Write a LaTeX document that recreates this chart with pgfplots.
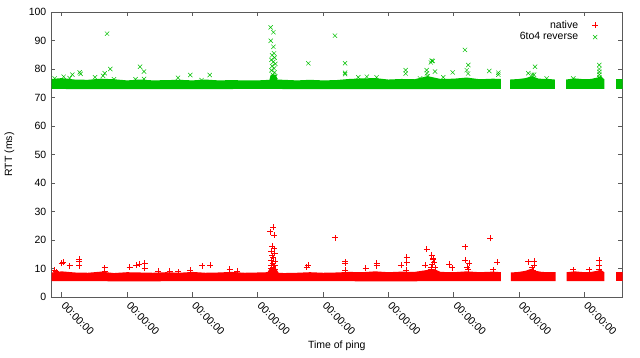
\documentclass[border=0pt]{standalone}
\usepackage{pgfplots}
\pgfplotsset{compat=1.18}
\usepackage{fontspec}
\setmainfont{Liberation Sans}
\definecolor{gpgreen}{RGB}{0,192,0}
\definecolor{gpred}{RGB}{255,0,0}
\definecolor{gpborder}{RGB}{90,90,90}
\begin{document}
\fontsize{10.5}{12}\selectfont
\begin{tikzpicture}[x=1pt,y=1pt]
\path[use as bounding box] (-51,-61) rectangle (589,297);
\begin{axis}[
  at={(0,0)}, anchor=south west,
  scale only axis, width=571.5pt, height=285pt,
  xmin=0.836, xmax=9.584, ymin=0, ymax=100,
  xtick={1,2,3,4,5,6,7,8,9}, xticklabel={00:00:00},
  ytick={0,10,...,100},
  /pgf/number format/assume math mode=true,
  tick align=inside, major tick length=4.5pt,
  axis line style={gpborder, line width=0.6pt},
  every tick/.style={gpborder, line width=0.6pt},
  xticklabel style={rotate=-45, anchor=north west, xshift=5pt, yshift=1pt, inner sep=1pt},
  yticklabel style={xshift=-1pt},
  xlabel={Time of ping}, ylabel={RTT (ms)},
  every axis x label/.style={at={(axis description cs:0.5,-0.172)}, anchor=center},
  every axis y label/.style={at={(axis description cs:-0.0726,0.5)}, rotate=90, anchor=center},
  legend style={at={(axis description cs:0.963,0.985)}, anchor=north east, draw=none, fill=none,
    legend plot pos=right, legend cell align=right, row sep=-1pt, column sep=12pt},
]
% dense bands (overlapping marks) as filled areas
\addplot[fill=gpred, draw=none, forget plot] coordinates {
(0.845,8.6) (1.0,9.0) (1.2,8.6) (1.4,8.5) (1.6,8.9) (1.8,8.4) (2.0,8.7) (2.2,8.6) (2.4,8.5) (2.6,8.7)
(2.8,8.5) (3.0,8.8) (3.2,8.5) (3.4,8.6) (3.6,8.8) (3.8,8.5) (4.0,8.6) (4.15,8.7) (4.2,10.5) (4.28,10.0)
(4.32,8.5) (4.4,8.4) (4.6,8.5) (4.8,8.7) (5.0,8.5) (5.2,8.6) (5.4,8.8) (5.6,8.7) (5.8,9.0) (6.0,8.7)
(6.2,8.9) (6.4,8.8) (6.6,9.5) (6.7,9.8) (6.8,8.8) (7.0,8.7) (7.2,9.0) (7.4,8.7) (7.6,8.9) (7.724,8.7)
(7.724,5.6) (6.0,5.5) (4.0,5.6) (2.0,5.5) (0.845,5.6)};
\addplot[fill=gpred, draw=none, forget plot] coordinates {
(7.877,8.6) (8.0,8.8) (8.1,9.2) (8.2,10.0) (8.25,9.2) (8.35,8.8) (8.45,8.7) (8.562,8.7) (8.562,5.6) (7.877,5.6)};
\addplot[fill=gpred, draw=none, forget plot] coordinates {
(8.730,8.7) (8.85,9.0) (9.0,8.7) (9.1,8.8) (9.2,9.2) (9.25,9.6) (9.305,8.7) (9.305,5.6) (8.730,5.6)};
\addplot[fill=gpred, draw=none, forget plot] coordinates {
(9.480,8.7) (9.6,8.7) (9.6,5.6) (9.480,5.6)};
\addplot[fill=gpgreen, draw=none, forget plot] coordinates {
(0.845,76.5) (1.0,76.8) (1.2,76.3) (1.4,76.2) (1.6,76.6) (1.8,76.4) (2.0,76.0) (2.2,76.3) (2.4,76.0) (2.6,76.1)
(2.8,76.2) (3.0,76.0) (3.2,76.3) (3.4,76.0) (3.6,76.1) (3.8,76.0) (4.0,76.0) (4.18,76.2) (4.2,78.0) (4.28,78.0)
(4.3,76.3) (4.4,76.2) (4.6,76.0) (4.8,76.2) (5.0,76.0) (5.2,76.1) (5.4,76.5) (5.6,76.7) (5.8,76.8) (6.0,76.3)
(6.2,76.5) (6.4,76.4) (6.6,77.5) (6.7,77.0) (6.8,76.5) (7.0,76.6) (7.2,77.0) (7.4,76.4) (7.6,76.6) (7.724,76.5)
(7.724,73.0) (6.0,72.9) (4.0,73.0) (2.0,72.9) (0.845,73.0)};
\addplot[fill=gpgreen, draw=none, forget plot] coordinates {
(7.862,76.3) (8.0,76.5) (8.1,76.8) (8.2,77.5) (8.3,76.6) (8.45,76.5) (8.55,76.3) (8.55,73.0) (7.862,73.0)};
\addplot[fill=gpgreen, draw=none, forget plot] coordinates {
(8.72,76.3) (8.85,76.7) (9.0,76.4) (9.1,76.5) (9.2,77.0) (9.25,77.5) (9.305,76.4) (9.305,73.0) (8.72,73.0)};
\addplot[fill=gpgreen, draw=none, forget plot] coordinates {
(9.48,76.4) (9.6,76.4) (9.6,73.0) (9.48,73.0)};
% native outliers: each "+" as a horizontal and a vertical stroke, one single path
\addplot[draw=gpred, line width=0.5pt, mark=none, unbounded coords=jump, forget plot]
table[row sep=\\] {
x y\\
0.844 9.5\\ 0.936 9.5\\ nan nan\\ 0.89 8.45\\ 0.89 10.55\\ nan nan\\
0.864 8.9\\ 0.956 8.9\\ nan nan\\ 0.91 7.85\\ 0.91 9.95\\ nan nan\\
0.954 11.8\\ 1.046 11.8\\ nan nan\\ 1.0 10.75\\ 1.0 12.85\\ nan nan\\
0.974 12.2\\ 1.066 12.2\\ nan nan\\ 1.02 11.15\\ 1.02 13.25\\ nan nan\\
1.074 11.0\\ 1.166 11.0\\ nan nan\\ 1.12 9.95\\ 1.12 12.05\\ nan nan\\
1.219 13.3\\ 1.311 13.3\\ nan nan\\ 1.265 12.25\\ 1.265 14.35\\ nan nan\\
1.219 12.4\\ 1.311 12.4\\ nan nan\\ 1.265 11.35\\ 1.265 13.45\\ nan nan\\
1.219 11.0\\ 1.311 11.0\\ nan nan\\ 1.265 9.95\\ 1.265 12.05\\ nan nan\\
1.612 10.3\\ 1.704 10.3\\ nan nan\\ 1.658 9.25\\ 1.658 11.35\\ nan nan\\
1.612 9.0\\ 1.704 9.0\\ nan nan\\ 1.658 7.95\\ 1.658 10.05\\ nan nan\\
1.994 10.6\\ 2.086 10.6\\ nan nan\\ 2.04 9.55\\ 2.04 11.65\\ nan nan\\
2.094 11.2\\ 2.186 11.2\\ nan nan\\ 2.14 10.15\\ 2.14 12.25\\ nan nan\\
2.144 11.6\\ 2.236 11.6\\ nan nan\\ 2.19 10.55\\ 2.19 12.65\\ nan nan\\
2.224 11.8\\ 2.316 11.8\\ nan nan\\ 2.27 10.75\\ 2.27 12.85\\ nan nan\\
2.224 10.1\\ 2.316 10.1\\ nan nan\\ 2.27 9.05\\ 2.27 11.15\\ nan nan\\
2.428 9.2\\ 2.52 9.2\\ nan nan\\ 2.474 8.15\\ 2.474 10.25\\ nan nan\\
2.604 9.2\\ 2.696 9.2\\ nan nan\\ 2.65 8.15\\ 2.65 10.25\\ nan nan\\
2.734 8.9\\ 2.826 8.9\\ nan nan\\ 2.78 7.85\\ 2.78 9.95\\ nan nan\\
2.914 9.5\\ 3.006 9.5\\ nan nan\\ 2.96 8.45\\ 2.96 10.55\\ nan nan\\
3.106 11.0\\ 3.198 11.0\\ nan nan\\ 3.152 9.95\\ 3.152 12.05\\ nan nan\\
3.229 11.2\\ 3.321 11.2\\ nan nan\\ 3.275 10.15\\ 3.275 12.25\\ nan nan\\
3.524 9.7\\ 3.616 9.7\\ nan nan\\ 3.57 8.65\\ 3.57 10.75\\ nan nan\\
3.644 9.2\\ 3.736 9.2\\ nan nan\\ 3.69 8.15\\ 3.69 10.25\\ nan nan\\
4.194 24.4\\ 4.286 24.4\\ nan nan\\ 4.24 23.35\\ 4.24 25.45\\ nan nan\\
4.144 22.9\\ 4.236 22.9\\ nan nan\\ 4.19 21.85\\ 4.19 23.95\\ nan nan\\
4.204 21.8\\ 4.296 21.8\\ nan nan\\ 4.25 20.75\\ 4.25 22.85\\ nan nan\\
4.174 17.9\\ 4.266 17.9\\ nan nan\\ 4.22 16.85\\ 4.22 18.95\\ nan nan\\
4.204 17.0\\ 4.296 17.0\\ nan nan\\ 4.25 15.95\\ 4.25 18.05\\ nan nan\\
4.164 16.2\\ 4.256 16.2\\ nan nan\\ 4.21 15.15\\ 4.21 17.25\\ nan nan\\
4.214 15.3\\ 4.306 15.3\\ nan nan\\ 4.26 14.25\\ 4.26 16.35\\ nan nan\\
4.174 14.5\\ 4.266 14.5\\ nan nan\\ 4.22 13.45\\ 4.22 15.55\\ nan nan\\
4.194 13.8\\ 4.286 13.8\\ nan nan\\ 4.24 12.75\\ 4.24 14.85\\ nan nan\\
4.154 13.0\\ 4.246 13.0\\ nan nan\\ 4.20 11.95\\ 4.20 14.05\\ nan nan\\
4.224 12.5\\ 4.316 12.5\\ nan nan\\ 4.27 11.45\\ 4.27 13.55\\ nan nan\\
4.184 12.0\\ 4.276 12.0\\ nan nan\\ 4.23 10.95\\ 4.23 13.05\\ nan nan\\
4.164 11.3\\ 4.256 11.3\\ nan nan\\ 4.21 10.25\\ 4.21 12.35\\ nan nan\\
4.214 11.0\\ 4.306 11.0\\ nan nan\\ 4.26 9.95\\ 4.26 12.05\\ nan nan\\
4.194 10.5\\ 4.286 10.5\\ nan nan\\ 4.24 9.45\\ 4.24 11.55\\ nan nan\\
4.154 10.0\\ 4.246 10.0\\ nan nan\\ 4.20 8.95\\ 4.20 11.05\\ nan nan\\
4.224 9.8\\ 4.316 9.8\\ nan nan\\ 4.27 8.75\\ 4.27 10.85\\ nan nan\\
5.137 20.8\\ 5.229 20.8\\ nan nan\\ 5.183 19.75\\ 5.183 21.85\\ nan nan\\
5.291 12.4\\ 5.383 12.4\\ nan nan\\ 5.337 11.35\\ 5.337 13.45\\ nan nan\\
5.291 11.9\\ 5.383 11.9\\ nan nan\\ 5.337 10.85\\ 5.337 12.95\\ nan nan\\
5.291 9.5\\ 5.383 9.5\\ nan nan\\ 5.337 8.45\\ 5.337 10.55\\ nan nan\\
4.704 10.6\\ 4.796 10.6\\ nan nan\\ 4.75 9.55\\ 4.75 11.65\\ nan nan\\
4.724 11.2\\ 4.816 11.2\\ nan nan\\ 4.77 10.15\\ 4.77 12.25\\ nan nan\\
5.607 10.1\\ 5.699 10.1\\ nan nan\\ 5.653 9.05\\ 5.653 11.15\\ nan nan\\
5.774 11.8\\ 5.866 11.8\\ nan nan\\ 5.82 10.75\\ 5.82 12.85\\ nan nan\\
5.774 11.0\\ 5.866 11.0\\ nan nan\\ 5.82 9.95\\ 5.82 12.05\\ nan nan\\
6.144 11.2\\ 6.236 11.2\\ nan nan\\ 6.19 10.15\\ 6.19 12.25\\ nan nan\\
6.234 14.1\\ 6.326 14.1\\ nan nan\\ 6.28 13.05\\ 6.28 15.15\\ nan nan\\
6.234 12.1\\ 6.326 12.1\\ nan nan\\ 6.28 11.05\\ 6.28 13.15\\ nan nan\\
6.224 9.5\\ 6.316 9.5\\ nan nan\\ 6.27 8.45\\ 6.27 10.55\\ nan nan\\
6.541 16.8\\ 6.633 16.8\\ nan nan\\ 6.587 15.75\\ 6.587 17.85\\ nan nan\\
6.617 14.7\\ 6.709 14.7\\ nan nan\\ 6.663 13.65\\ 6.663 15.75\\ nan nan\\
6.644 13.5\\ 6.736 13.5\\ nan nan\\ 6.69 12.45\\ 6.69 14.55\\ nan nan\\
6.514 11.2\\ 6.606 11.2\\ nan nan\\ 6.56 10.15\\ 6.56 12.25\\ nan nan\\
6.614 10.6\\ 6.706 10.6\\ nan nan\\ 6.66 9.55\\ 6.66 11.65\\ nan nan\\
6.634 13.3\\ 6.726 13.3\\ nan nan\\ 6.68 12.25\\ 6.68 14.35\\ nan nan\\
6.654 12.3\\ 6.746 12.3\\ nan nan\\ 6.70 11.25\\ 6.70 13.35\\ nan nan\\
6.624 11.5\\ 6.716 11.5\\ nan nan\\ 6.67 10.45\\ 6.67 12.55\\ nan nan\\
6.674 10.3\\ 6.766 10.3\\ nan nan\\ 6.72 9.25\\ 6.72 11.35\\ nan nan\\
6.604 9.8\\ 6.696 9.8\\ nan nan\\ 6.65 8.75\\ 6.65 10.85\\ nan nan\\
7.127 17.7\\ 7.219 17.7\\ nan nan\\ 7.173 16.65\\ 7.173 18.75\\ nan nan\\
7.127 13.0\\ 7.219 13.0\\ nan nan\\ 7.173 11.95\\ 7.173 14.05\\ nan nan\\
7.194 11.8\\ 7.286 11.8\\ nan nan\\ 7.24 10.75\\ 7.24 12.85\\ nan nan\\
7.174 9.8\\ 7.266 9.8\\ nan nan\\ 7.22 8.75\\ 7.22 10.85\\ nan nan\\
7.154 10.5\\ 7.246 10.5\\ nan nan\\ 7.2 9.45\\ 7.2 11.55\\ nan nan\\
6.884 11.5\\ 6.976 11.5\\ nan nan\\ 6.93 10.45\\ 6.93 12.55\\ nan nan\\
6.934 10.3\\ 7.026 10.3\\ nan nan\\ 6.98 9.25\\ 6.98 11.35\\ nan nan\\
7.51 20.6\\ 7.602 20.6\\ nan nan\\ 7.556 19.55\\ 7.556 21.65\\ nan nan\\
7.554 9.6\\ 7.646 9.6\\ nan nan\\ 7.6 8.55\\ 7.6 10.65\\ nan nan\\
7.624 12.2\\ 7.716 12.2\\ nan nan\\ 7.67 11.15\\ 7.67 13.25\\ nan nan\\
8.096 12.4\\ 8.188 12.4\\ nan nan\\ 8.142 11.35\\ 8.142 13.45\\ nan nan\\
8.188 12.7\\ 8.28 12.7\\ nan nan\\ 8.234 11.65\\ 8.234 13.75\\ nan nan\\
8.188 11.2\\ 8.28 11.2\\ nan nan\\ 8.234 10.15\\ 8.234 12.25\\ nan nan\\
8.174 9.5\\ 8.266 9.5\\ nan nan\\ 8.22 8.45\\ 8.22 10.55\\ nan nan\\
8.154 10.3\\ 8.246 10.3\\ nan nan\\ 8.20 9.25\\ 8.20 11.35\\ nan nan\\
8.784 9.6\\ 8.876 9.6\\ nan nan\\ 8.83 8.55\\ 8.83 10.65\\ nan nan\\
9.024 9.6\\ 9.116 9.6\\ nan nan\\ 9.07 8.55\\ 9.07 10.65\\ nan nan\\
9.184 13.0\\ 9.276 13.0\\ nan nan\\ 9.23 11.95\\ 9.23 14.05\\ nan nan\\
9.184 11.0\\ 9.276 11.0\\ nan nan\\ 9.23 9.95\\ 9.23 12.05\\ nan nan\\
9.184 9.6\\ 9.276 9.6\\ nan nan\\ 9.23 8.55\\ 9.23 10.65\\
};
\addlegendimage{only marks, mark=+, mark size=3pt, draw=gpred, line width=0.5pt, mark options={draw=gpred, solid}}
\addlegendentry{native}
\addplot[only marks, mark=x, mark size=3pt, draw=gpgreen, line width=0.5pt,
  mark options={draw=gpgreen, solid}] coordinates {
(1.694,92.4) (1.744,80.0) (2.199,80.8) (2.26,79.1) (1.275,78.8) (1.29,78.3) (1.658,78.5) (1.163,78.0)
(1.632,77.6) (1.03,77.3) (1.51,77.1) (1.12,76.8) (0.893,76.7) (2.968,77.9) (3.265,77.9) (2.78,76.9)
(2.26,76.5) (2.13,76.4) (3.14,76.1) (1.80,76.4)
(4.199,94.6) (4.24,92.9) (4.20,89.9) (4.24,87.8) (4.25,85.5) (4.22,84.8) (4.26,84.0) (4.21,83.2)
(4.24,82.5) (4.27,81.8) (4.22,81.0) (4.25,80.2) (4.21,79.5) (4.26,78.8) (4.23,78.0) (4.27,77.3)
(5.183,91.7) (4.775,82.0) (5.337,82.0) (5.337,78.7) (5.337,78.2) (5.54,77.1) (5.67,77.3) (5.82,77.1)
(6.265,79.6) (6.265,78.4) (6.663,82.9) (6.65,82.3) (6.587,79.6) (6.59,78.5) (6.60,77.5) (6.714,79.1)
(6.485,76.7) (6.679,82.8)
(7.173,86.7) (7.224,81.4) (7.2,79.6) (7.22,78.4) (6.985,78.8) (7.545,79.3) (7.683,78.7) (7.683,78.0)
(6.84,77.1) (8.245,80.8) (8.142,78.5) (8.2,78.0) (8.23,78.0) (8.424,76.7) (9.229,81.4) (9.23,80.0)
(9.23,79.0) (9.23,78.0) (9.23,77.0) (8.83,76.7)};
\addlegendentry{6to4 reverse}
\end{axis}
\end{tikzpicture}
\end{document}
